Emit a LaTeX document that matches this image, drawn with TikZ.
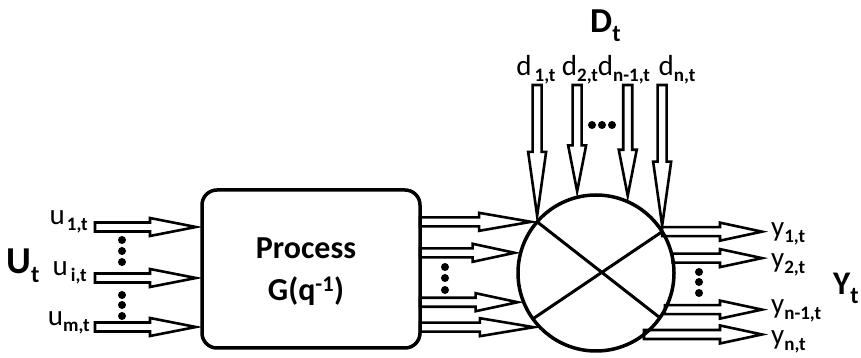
\documentclass[tikz,border=0pt]{standalone}
\usepackage{fontspec}
\setmainfont{Carlito}
\usetikzlibrary{calc,backgrounds}
\newcommand\sbx[2][0pt]{\raisebox{-6pt}{\fontsize{19}{19}\selectfont\bfseries\hspace*{#1}#2}}
\newcommand\bsb[1]{\raisebox{-9pt}{\fontsize{24}{24}\selectfont\bfseries #1}}
\begin{document}
\begin{tikzpicture}[x=1pt,y=1pt,
  hl/.store in=\hlen, hl=50,
  hollow/.style={draw, fill=white, line width=2.6pt, line join=miter, to path={
    let \p1=(\tikztostart), \p2=(\tikztotarget),
        \n1={atan2(\y2-\y1,\x2-\x1)},
        \n3={veclen(\x2-\x1,\y2-\y1)},
        \n2={\n3-\hlen}
    in ($(\p1)+({\n1+90}:4.5)$) -- ($(\p1)+({\n1}:{\n2})+({\n1+90}:4.5)$)
       -- ($(\p1)+({\n1}:{\n2})+({\n1+90}:9)$) -- ($(\p1)+({\n1}:{\n3-6})$)
       -- ($(\p1)+({\n1}:{\n2})+({\n1-90}:9)$) -- ($(\p1)+({\n1}:{\n2})+({\n1-90}:4.5)$)
       -- ($(\p1)+({\n1-90}:4.5)$) -- cycle}},
  lbl/.style={font=\fontsize{29}{29}\selectfont, inner sep=0pt},
  dot/.style={fill=black},
]
\useasboundingbox (0,0) rectangle (861,358);

% process box and summing circle
\node[draw, line width=3.5pt, rounded corners=15pt, minimum width=218pt, minimum height=158pt,
      inner sep=0pt, outer sep=0pt] (box) at (311,89) {};
\node[font=\fontsize{32}{42}\selectfont\bfseries, align=center] (ptxt) at (306,86)
      {Process\\G(q\textsuperscript{-1})};
\node[draw, circle, line width=3.5pt, minimum size=156pt, inner sep=0pt, outer sep=0pt] (c) at (596,85) {};
\draw[line width=3pt] (c.139) -- (c.325) (c.32) -- (c.216);

% helper coordinates
\coordinate (xout) at (768,0);
\coordinate (ytop) at (0,273);
\coordinate (i1) at (95,131);
\coordinate (i2) at (95,80);
\coordinate (i3) at (95,31);
\coordinate (b1) at (box.east |- c.139);
\coordinate (b2) at (box.east |- c.165);
\coordinate (b3) at (box.east |- c.202.6);
\coordinate (b4) at (box.east |- c.224.8);
\coordinate (o1) at (c.32 -| xout);
\coordinate (o2) at (c.11.8 -| xout);
\coordinate (o3) at (c.-28.3 -| xout);
\coordinate (o4) at (c.-52.6 -| xout);
\coordinate (d1) at (c.139 |- ytop);
\coordinate (d2) at (c.104 |- ytop);
\coordinate (d3) at (c.66 |- ytop);
\coordinate (d4) at (c.32 |- ytop);

\begin{scope}[on background layer]
  % inputs
  \path[hollow, hl=52] (i1) to (box.west |- i1);
  \path[hollow, hl=52] (i2) to (box.west |- i2);
  \path[hollow, hl=52] (i3) to (box.west |- i3);
  % process to circle
  \path[hollow, hl=58] (b1) to (c.139);
  \path[hollow, hl=48] (b2) to (c.165);
  \path[hollow, hl=48] (b3) to (c.202.6);
  \path[hollow, hl=60] (b4) to (c.224.8);
  % disturbances
  \path[hollow, hl=70] (d1) to (c.139);
  \path[hollow, hl=52] (d2) to (c.104);
  \path[hollow, hl=52] (d3) to (c.66);
  \path[hollow, hl=70] (d4) to (c.32);
  % outputs
  \path[hollow, hl=48] (c.32) to (o1);
  \path[hollow, hl=48] (c.11.8) to (o2);
  \path[hollow, hl=48] (c.-28.3) to (o3);
  \path[hollow, hl=48] (c.-52.6) to (o4);
\end{scope}

% dots
\foreach \yy in {118,107,96,63,53,42} \fill[dot] (122,\yy) circle (4);
\foreach \yy in {91,80,68} \fill[dot] (445,\yy) circle (4);
\foreach \yy in {86,76,65} \fill[dot] (699,\yy) circle (4);
\foreach \xx in {592,602,612} \fill[dot] (\xx,233) circle (4);

% labels
\node[lbl, anchor=base east] (lu1) at (88,133) {u\sbx[2pt]{1,t}};
\node[lbl, anchor=base east] (lu2) at (87,82) {u\sbx[3pt]{i,t}};
\node[lbl, anchor=base east] (lu3) at (90,32) {u\sbx{m,t}};
\node[anchor=base west, inner sep=0pt, font=\fontsize{38}{38}\selectfont\bfseries] (U) at (6,84) {U\bsb{t}};

\node[lbl, anchor=base] (ld1) at (536,282) {d\sbx[3pt]{1,t}};
\node[lbl, anchor=base] (ld2) at (580,282) {d\sbx{2,t}};
\node[lbl, anchor=base] (ld3) at (624,282) {d\sbx{n-1,t}};
\node[lbl, anchor=base] (ld4) at (677,282) {d\sbx{n,t}};
\node[anchor=base west, inner sep=0pt, font=\fontsize{35}{35}\selectfont\bfseries] (D) at (590,325) {D\bsb{t}};

\node[lbl, anchor=base west] (ly1) at (771,121) {y\sbx{1,t}};
\node[lbl, anchor=base west] (ly2) at (771,90) {y\sbx{2,t}};
\node[lbl, anchor=base west] (ly3) at (771,44) {y\sbx{n-1,t}};
\node[lbl, anchor=base west] (ly4) at (771,13) {y\sbx{n,t}};
\node[anchor=base west, inner sep=0pt, font=\fontsize{33}{33}\selectfont\bfseries] (Y) at (833,63) {Y\bsb{t}};
\end{tikzpicture}
\end{document}
